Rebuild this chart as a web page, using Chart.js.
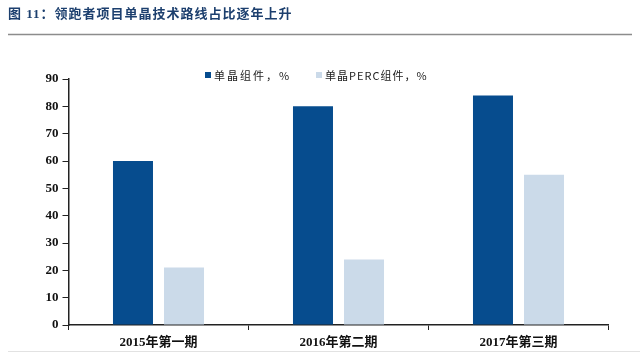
<!DOCTYPE html>
<html>
<head>
<meta charset="utf-8">
<script src="https://cdn.jsdelivr.net/npm/chart.js@4.4.1/dist/chart.umd.min.js"></script>
<style>
  html, body { margin: 0; padding: 0; background: #fff; }
  #wrap { position: relative; width: 640px; height: 355px; }
  canvas { display: block; }
</style>
</head>
<body>
<div id="wrap"><canvas id="c" width="640" height="355"></canvas></div>
<script>
const titleText = '图 11：领跑者项目单晶技术路线占比逐年上升';
const categories = ['2015年第一期', '2016年第二期', '2017年第三期'];
const seriesNames = ['单晶组件，%', '单晶PERC组件，%'];
const monoValues = [60, 80, 84];
const percValues = [21, 24, 55];
const yTicks = [0, 10, 20, 30, 40, 50, 60, 70, 80, 90];

const colors = ['#064c8e', '#cbdae9'];
const serif = '"Liberation Serif", "Times New Roman", "Noto Sans CJK SC", serif';

const decor = {
  id: 'decor',
  afterDraw(chart) {
    const ctx = chart.ctx;
    ctx.save();
    // title
    ctx.fillStyle = '#1c3f6e';
    ctx.font = 'bold 13px ' + serif;
    ctx.textBaseline = 'middle';
    ctx.textAlign = 'left';
    ctx.letterSpacing = '1px';
    ctx.fillText(titleText, 8, 15);
    ctx.letterSpacing = '0px';
    // separator lines
    ctx.strokeStyle = '#8c8c8c';
    ctx.lineWidth = 1.5;
    ctx.beginPath(); ctx.moveTo(8, 34.5); ctx.lineTo(632, 34.5); ctx.stroke();
    ctx.strokeStyle = '#e2e2e2';
    ctx.lineWidth = 1;
    ctx.beginPath(); ctx.moveTo(8, 351.5); ctx.lineTo(640, 351.5); ctx.stroke();
    // legend
    ctx.font = '11px "Noto Sans CJK SC", sans-serif';
    ctx.textBaseline = 'middle';
    const lx = [205, 316];
    const sp = ['2px', '1px'];
    chart.data.datasets.forEach((ds, i) => {
      ctx.fillStyle = ds.backgroundColor;
      ctx.fillRect(lx[i], 72, 6, 6);
      ctx.fillStyle = '#222';
      ctx.letterSpacing = sp[i];
      ctx.fillText(ds.label, lx[i] + 9, 75.5);
    });
    ctx.restore();
  }
};

new Chart(document.getElementById('c'), {
  type: 'bar',
  data: {
    labels: categories,
    datasets: [
      { label: seriesNames[0], data: monoValues, backgroundColor: colors[0] },
      { label: seriesNames[1], data: percValues, backgroundColor: colors[1] }
    ]
  },
  options: {
    responsive: false,
    animation: false,
    layout: { padding: { top: 79, right: 31.5, left: 0, bottom: 0 } },
    categoryPercentage: 0.567,
    barPercentage: 0.784,
    plugins: { legend: { display: false }, tooltip: { enabled: false } },
    scales: {
      x: {
        grid: { display: true, drawOnChartArea: false, drawTicks: true, tickLength: 5, color: '#222', offset: true },
        border: { display: true, color: '#222', width: 1.5 },
        ticks: { color: '#111', font: { family: serif, size: 13, weight: 'bold' }, padding: 5 },
        afterFit(s) { s.height = 30; }
      },
      y: {
        min: 0, max: 90,
        afterBuildTicks(s) { s.ticks = yTicks.map(v => ({ value: v })); },
        grid: { display: true, drawOnChartArea: false, drawTicks: true, tickLength: 6, color: '#222' },
        border: { display: true, color: '#222', width: 1.5 },
        ticks: { color: '#111', font: { family: serif, size: 13, weight: 'bold' }, padding: 4 },
        afterFit(s) { s.width = 68.5; }
      }
    }
  },
  plugins: [decor]
});
</script>
</body>
</html>
